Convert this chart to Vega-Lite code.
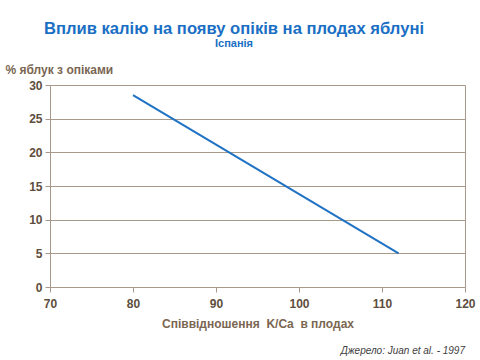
{
  "$schema": "https://vega.github.io/schema/vega-lite/v6.json",
  "padding": {"left": 4, "top": 20, "right": 1, "bottom": 1},
  "background": "white",
  "title": {
    "text": "Вплив калію на появу опіків на плодах яблуні",
    "subtitle": "Іспанія",
    "font": "Liberation Sans",
    "fontSize": 16.6,
    "fontWeight": "bold",
    "color": "#1a6fc4",
    "subtitleFont": "Liberation Sans",
    "subtitleFontSize": 11,
    "subtitleFontWeight": "bold",
    "subtitleColor": "#1a6fc4",
    "subtitlePadding": 0,
    "anchor": "middle",
    "dx": -6,
    "offset": 14
  },
  "config": {"view": {"stroke": "#a89a8a", "strokeWidth": 1}},
  "vconcat": [
    {
      "width": 415,
      "height": 202,
      "title": {
        "text": "Джерело: Juan et al. - 1997",
        "orient": "bottom",
        "anchor": "end",
        "frame": "group",
        "font": "Liberation Sans",
        "fontSize": 10,
        "fontStyle": "italic",
        "fontWeight": "normal",
        "color": "#404040",
        "offset": 17
      },
      "data": {
        "values": [
          {"ratio": 80, "pct": 28.5},
          {"ratio": 112, "pct": 5}
        ]
      },
      "mark": {"type": "line", "color": "#1f72c4", "strokeWidth": 2},
      "encoding": {
        "x": {
          "field": "ratio",
          "type": "quantitative",
          "scale": {"domain": [70, 120], "nice": false, "zero": false},
          "axis": {
            "values": [70, 80, 90, 100, 110, 120],
            "grid": false,
            "labelFlush": false,
            "domainColor": "#a89a8a",
            "tickColor": "#a89a8a",
            "tickSize": 5,
            "labelFont": "Liberation Sans",
            "labelFontSize": 12,
            "labelFontWeight": "bold",
            "labelColor": "#5e4e3e",
            "labelPadding": 6,
            "title": "Співвідношення\u00a0 K/Ca\u00a0 в плодах",
            "titleFont": "Liberation Sans",
            "titleFontSize": 12,
            "titleFontWeight": "bold",
            "titleColor": "#7a6652",
            "titlePadding": 9
          }
        },
        "y": {
          "field": "pct",
          "type": "quantitative",
          "scale": {"domain": [0, 30], "nice": false},
          "axis": {
            "values": [0, 5, 10, 15, 20, 25, 30],
            "grid": true,
            "labelFlush": false,
            "gridColor": "#a89a8a",
            "domainColor": "#a89a8a",
            "tickColor": "#a89a8a",
            "tickSize": 5,
            "labelFont": "Liberation Sans",
            "labelFontSize": 12,
            "labelFontWeight": "bold",
            "labelColor": "#5e4e3e",
            "labelPadding": 3,
            "title": "% яблук з опіками",
            "titleFont": "Liberation Sans",
            "titleFontSize": 12,
            "titleFontWeight": "bold",
            "titleColor": "#7a6652",
            "titleAngle": 0,
            "titleAlign": "left",
            "titleBaseline": "middle",
            "titleX": -45,
            "titleY": -16
          }
        }
      }
    }
  ]
}
